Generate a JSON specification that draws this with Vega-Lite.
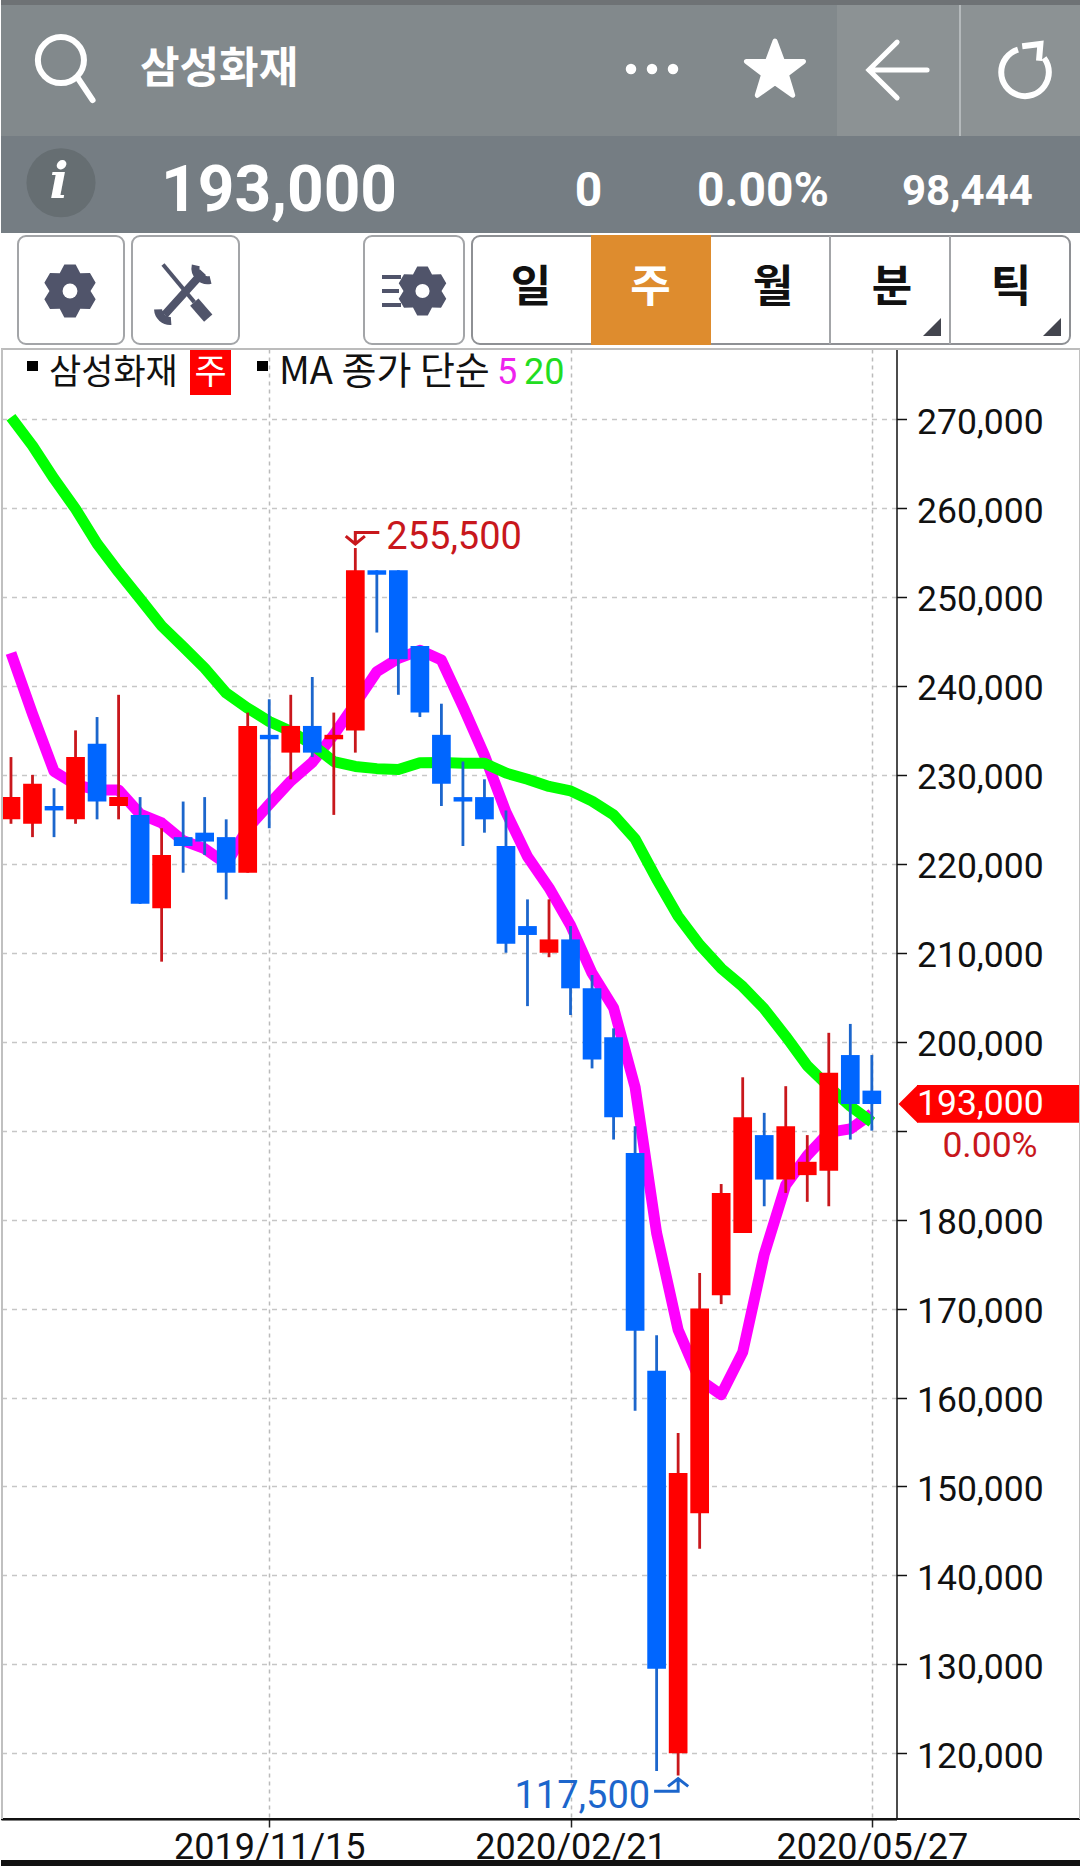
{"$schema":"https://vega.github.io/schema/vega-lite/v6.json","padding":0,"spacing":0,"bounds":"flush","background":"#ffffff","config":{"view":{"stroke":null}},"vconcat":[
{"width":1080,"height":349,"data":{"values":[{}]},"layer":[
{"mark":{"type":"rect","fill":"#82898c"},"encoding":{"x":{"datum":0,"scale":{"domain":[0,1080],"nice":false,"zero":false},"axis":null},"x2":{"datum":1080},"y":{"datum":0,"scale":{"domain":[349,0],"nice":false,"zero":false},"axis":null},"y2":{"datum":136}}},
{"mark":{"type":"rect","fill":"#6e7275"},"encoding":{"x":{"datum":0,"axis":null},"x2":{"datum":1080},"y":{"datum":0,"axis":null},"y2":{"datum":5}}},
{"mark":{"type":"rect","fill":"#8c9294"},"encoding":{"x":{"datum":836,"axis":null},"x2":{"datum":1080},"y":{"datum":5,"axis":null},"y2":{"datum":136}}},
{"mark":{"type":"rect","fill":"#b4b9bb"},"encoding":{"x":{"datum":958,"axis":null},"x2":{"datum":960},"y":{"datum":5,"axis":null},"y2":{"datum":136}}},
{"mark":{"type":"rect","fill":"#757d83"},"encoding":{"x":{"datum":0,"axis":null},"x2":{"datum":1080},"y":{"datum":136,"axis":null},"y2":{"datum":233}}},
{"mark":{"type":"point","shape":"M-.91,-.31 A.72,.72 0 1 1 .53,-.31 A.72,.72 0 1 1 -.91,-.31 M.32,.22 L.8,.94","size":4096,"filled":false,"stroke":"#ffffff","strokeWidth":6,"strokeCap":"round","opacity":1},"encoding":{"x":{"datum":66,"axis":null},"y":{"datum":70,"axis":null}}},
{"mark":{"type":"text","font":"Noto Sans CJK KR","fontWeight":"bold","fontSize":43,"color":"#ffffff","align":"left","baseline":"middle"},"encoding":{"x":{"datum":139,"axis":null},"y":{"datum":70,"axis":null},"text":{"value":"삼성화재"}}},
{"mark":{"type":"text","font":"Roboto","fontWeight":"bold","fontSize":64,"color":"#ffffff","align":"left","baseline":"middle"},"encoding":{"x":{"datum":160,"axis":null},"y":{"datum":192,"axis":null},"text":{"value":"193,000"}}},
{"mark":{"type":"text","font":"Roboto","fontWeight":"bold","fontSize":48,"color":"#ffffff","align":"center","baseline":"middle"},"encoding":{"x":{"datum":587.5,"axis":null},"y":{"datum":192,"axis":null},"text":{"value":"0"}}},
{"mark":{"type":"text","font":"Roboto","fontWeight":"bold","fontSize":48,"color":"#ffffff","align":"left","baseline":"middle"},"encoding":{"x":{"datum":696,"axis":null},"y":{"datum":192,"axis":null},"text":{"value":"0.00%"}}},
{"mark":{"type":"text","font":"Roboto","fontWeight":"bold","fontSize":42,"color":"#ffffff","align":"left","baseline":"middle"},"encoding":{"x":{"datum":901,"axis":null},"y":{"datum":192,"axis":null},"text":{"value":"98,444"}}},
{"mark":{"type":"point","shape":"circle","size":4778,"filled":true,"fill":"#666e72","opacity":1},"encoding":{"x":{"datum":60,"axis":null},"y":{"datum":182.7,"axis":null}}},
{"mark":{"type":"text","font":"DejaVu Serif","fontWeight":"bold","fontStyle":"italic","fontSize":50,"color":"#ffffff","align":"center","baseline":"middle"},"encoding":{"x":{"datum":58,"axis":null},"y":{"datum":183,"axis":null},"text":{"value":"i"}}},
{"mark":{"type":"point","shape":"circle","size":110,"filled":true,"fill":"#ffffff","opacity":1},"encoding":{"x":{"datum":630,"axis":null},"y":{"datum":69,"axis":null}}},
{"mark":{"type":"point","shape":"circle","size":110,"filled":true,"fill":"#ffffff","opacity":1},"encoding":{"x":{"datum":651,"axis":null},"y":{"datum":69,"axis":null}}},
{"mark":{"type":"point","shape":"circle","size":110,"filled":true,"fill":"#ffffff","opacity":1},"encoding":{"x":{"datum":672,"axis":null},"y":{"datum":69,"axis":null}}},
{"mark":{"type":"point","shape":"M0,-1 L.25,-.32 L.95,-.32 L.38,.12 L.59,.81 L0,.39 L-.59,.81 L-.38,.12 L-.95,-.32 L-.25,-.32 Z","size":3600,"filled":true,"fill":"#ffffff","stroke":"#ffffff","strokeWidth":5,"strokeJoin":"round","opacity":1},"encoding":{"x":{"datum":774,"axis":null},"y":{"datum":71,"axis":null}}},
{"mark":{"type":"point","shape":"M.97,0 L-.97,0 M-.03,-.93 L-.97,0 L-.03,.93","size":3600,"filled":false,"stroke":"#ffffff","strokeWidth":5,"strokeCap":"round","opacity":1},"encoding":{"x":{"datum":897,"axis":null},"y":{"datum":70,"axis":null}}},
{"mark":{"type":"point","shape":"M-.25,-.8 A.85,.85 0 1 0 .68,-.5 M-.1,-.92 L.55,-1 L.5,-.4","size":3136,"filled":false,"stroke":"#ffffff","strokeWidth":6,"opacity":1},"encoding":{"x":{"datum":1024,"axis":null},"y":{"datum":72,"axis":null}}},
{"mark":{"type":"rect","fill":"#ffffff","stroke":"#a3a5a8","strokeWidth":2,"cornerRadius":8},"encoding":{"x":{"datum":17,"axis":null},"x2":{"datum":123},"y":{"datum":236,"axis":null},"y2":{"datum":344}}},
{"mark":{"type":"rect","fill":"#ffffff","stroke":"#a3a5a8","strokeWidth":2,"cornerRadius":8},"encoding":{"x":{"datum":131,"axis":null},"x2":{"datum":238},"y":{"datum":236,"axis":null},"y2":{"datum":344}}},
{"mark":{"type":"rect","fill":"#ffffff","stroke":"#a3a5a8","strokeWidth":2,"cornerRadius":8},"encoding":{"x":{"datum":363,"axis":null},"x2":{"datum":463},"y":{"datum":236,"axis":null},"y2":{"datum":344}}},
{"mark":{"type":"rect","fill":"#ffffff","stroke":"#8e9094","strokeWidth":2,"cornerRadius":8},"encoding":{"x":{"datum":471,"axis":null},"x2":{"datum":1069},"y":{"datum":236,"axis":null},"y2":{"datum":344}}},
{"mark":{"type":"rect","fill":"#de8c2e"},"encoding":{"x":{"datum":590,"axis":null},"x2":{"datum":710},"y":{"datum":235,"axis":null},"y2":{"datum":345}}},
{"mark":{"type":"rule","stroke":"#a3a5a8","strokeWidth":2},"encoding":{"x":{"datum":829,"axis":null},"y":{"datum":236,"axis":null},"y2":{"datum":344}}},
{"mark":{"type":"rule","stroke":"#a3a5a8","strokeWidth":2},"encoding":{"x":{"datum":949,"axis":null},"y":{"datum":236,"axis":null},"y2":{"datum":344}}},
{"mark":{"type":"point","shape":"M-.21,-.98 L.21,-.98 L.38,-.66 L.74,-.67 L.95,-.31 L.76,0 L.95,.31 L.74,.67 L.38,.66 L.21,.98 L-.21,.98 L-.38,.66 L-.74,.67 L-.95,.31 L-.76,0 L-.95,-.31 L-.74,-.67 L-.38,-.66 Z","size":2916,"filled":true,"fill":"#50546a","opacity":1},"encoding":{"x":{"datum":69,"axis":null},"y":{"datum":291,"axis":null}}},
{"mark":{"type":"point","shape":"circle","size":220,"filled":true,"fill":"#ffffff","opacity":1},"encoding":{"x":{"datum":69,"axis":null},"y":{"datum":291,"axis":null}}},
{"mark":{"type":"point","shape":"M-.21,-.98 L.21,-.98 L.38,-.66 L.74,-.67 L.95,-.31 L.76,0 L.95,.31 L.74,.67 L.38,.66 L.21,.98 L-.21,.98 L-.38,.66 L-.74,.67 L-.95,.31 L-.76,0 L-.95,-.31 L-.74,-.67 L-.38,-.66 Z","size":2500,"filled":true,"fill":"#50546a","opacity":1},"encoding":{"x":{"datum":421.5,"axis":null},"y":{"datum":291,"axis":null}}},
{"mark":{"type":"point","shape":"circle","size":200,"filled":true,"fill":"#ffffff","opacity":1},"encoding":{"x":{"datum":421.5,"axis":null},"y":{"datum":291,"axis":null}}},
{"mark":{"type":"rect","fill":"#50546a"},"encoding":{"x":{"datum":381,"axis":null},"x2":{"datum":400},"y":{"datum":275,"axis":null},"y2":{"datum":279}}},
{"mark":{"type":"rect","fill":"#50546a"},"encoding":{"x":{"datum":381,"axis":null},"x2":{"datum":398},"y":{"datum":289,"axis":null},"y2":{"datum":293}}},
{"mark":{"type":"rect","fill":"#50546a"},"encoding":{"x":{"datum":381,"axis":null},"x2":{"datum":400},"y":{"datum":303,"axis":null},"y2":{"datum":307}}},
{"mark":{"type":"point","shape":"M-.78,-.95 L.3,.35","size":3364,"filled":false,"stroke":"#50546a","strokeWidth":4,"opacity":1},"encoding":{"x":{"datum":184.6,"axis":null},"y":{"datum":292,"axis":null}}},
{"mark":{"type":"point","shape":"M.3,.35 L.78,.9","size":3364,"filled":false,"stroke":"#50546a","strokeWidth":11,"opacity":1},"encoding":{"x":{"datum":184.6,"axis":null},"y":{"datum":292,"axis":null}}},
{"mark":{"type":"point","shape":"M-.72,.78 L.6,-.68 M.35,-.92 A.42,.42 0 0 0 .86,-.42 M-.95,.6 A.42,.42 0 0 0 -.5,1","size":3364,"filled":false,"stroke":"#50546a","strokeWidth":8,"opacity":1},"encoding":{"x":{"datum":184.6,"axis":null},"y":{"datum":292,"axis":null}}},
{"mark":{"type":"text","font":"Noto Sans CJK KR","fontWeight":"bold","fontSize":44,"color":"#111111","align":"center","baseline":"middle"},"encoding":{"x":{"datum":530,"axis":null},"y":{"datum":289,"axis":null},"text":{"value":"일"}}},
{"mark":{"type":"text","font":"Noto Sans CJK KR","fontWeight":"bold","fontSize":44,"color":"#ffffff","align":"center","baseline":"middle"},"encoding":{"x":{"datum":649.5,"axis":null},"y":{"datum":289,"axis":null},"text":{"value":"주"}}},
{"mark":{"type":"text","font":"Noto Sans CJK KR","fontWeight":"bold","fontSize":44,"color":"#111111","align":"center","baseline":"middle"},"encoding":{"x":{"datum":772,"axis":null},"y":{"datum":289,"axis":null},"text":{"value":"월"}}},
{"mark":{"type":"text","font":"Noto Sans CJK KR","fontWeight":"bold","fontSize":44,"color":"#111111","align":"center","baseline":"middle"},"encoding":{"x":{"datum":891,"axis":null},"y":{"datum":289,"axis":null},"text":{"value":"분"}}},
{"mark":{"type":"text","font":"Noto Sans CJK KR","fontWeight":"bold","fontSize":44,"color":"#111111","align":"center","baseline":"middle"},"encoding":{"x":{"datum":1010,"axis":null},"y":{"datum":289,"axis":null},"text":{"value":"틱"}}},
{"mark":{"type":"point","shape":"M1,-1 L1,1 L-1,1 Z","size":324,"filled":true,"fill":"#43454e","opacity":1},"encoding":{"x":{"datum":931,"axis":null},"y":{"datum":327,"axis":null}}},
{"mark":{"type":"point","shape":"M1,-1 L1,1 L-1,1 Z","size":324,"filled":true,"fill":"#43454e","opacity":1},"encoding":{"x":{"datum":1051,"axis":null},"y":{"datum":327,"axis":null}}},
{"mark":{"type":"rect","fill":"#000000"},"encoding":{"x":{"datum":26,"axis":null},"x2":{"datum":37},"y":{"datum":361,"axis":null},"y2":{"datum":371}}},
{"mark":{"type":"text","font":"Noto Sans CJK KR","fontSize":35,"color":"#111111","align":"left","baseline":"middle"},"encoding":{"x":{"datum":48,"axis":null},"y":{"datum":373,"axis":null},"text":{"value":"삼성화재"}}},
{"mark":{"type":"rect","fill":"#ff0000"},"encoding":{"x":{"datum":189,"axis":null},"x2":{"datum":230},"y":{"datum":349,"axis":null},"y2":{"datum":395}}},
{"mark":{"type":"text","font":"Noto Sans CJK KR","fontSize":35,"color":"#ffffff","align":"center","baseline":"middle"},"encoding":{"x":{"datum":209.5,"axis":null},"y":{"datum":373,"axis":null},"text":{"value":"주"}}},
{"mark":{"type":"rect","fill":"#000000"},"encoding":{"x":{"datum":256,"axis":null},"x2":{"datum":267},"y":{"datum":361,"axis":null},"y2":{"datum":371}}},
{"mark":{"type":"text","font":"Noto Sans CJK KR","fontSize":38,"color":"#111111","align":"left","baseline":"middle"},"encoding":{"x":{"datum":278,"axis":null},"y":{"datum":373,"axis":null},"text":{"value":"MA 종가 단순"}}},
{"mark":{"type":"text","font":"Roboto","fontSize":36,"color":"#ee22ee","align":"left","baseline":"middle"},"encoding":{"x":{"datum":496,"axis":null},"y":{"datum":373,"axis":null},"text":{"value":"5"}}},
{"mark":{"type":"text","font":"Roboto","fontSize":36,"color":"#22dd22","align":"left","baseline":"middle"},"encoding":{"x":{"datum":523,"axis":null},"y":{"datum":373,"axis":null},"text":{"value":"20"}}}
]},
{"width":895.5,"height":1470,"resolve":{"scale":{"x":"independent"},"axis":{"y":"independent"}},"data":{"values":[
{"date":"2019/08/23","open":225000,"high":232000,"low":224500,"close":227500,"dir":"up","ma5":243700,"ma20":270200},
{"date":"2019/08/30","open":224500,"high":230000,"low":223000,"close":229000,"dir":"up","ma5":236850,"ma20":267000},
{"date":"2019/09/06","open":226500,"high":228500,"low":223000,"close":226000,"dir":"down","ma5":230400,"ma20":263300},
{"date":"2019/09/13","open":225000,"high":235000,"low":224500,"close":232000,"dir":"up","ma5":228900,"ma20":259900},
{"date":"2019/09/20","open":233500,"high":236500,"low":225000,"close":227000,"dir":"down","ma5":228300,"ma20":256000},
{"date":"2019/09/27","open":226500,"high":239000,"low":225000,"close":227500,"dir":"up","ma5":228300,"ma20":252800},
{"date":"2019/10/04","open":225500,"high":227500,"low":215500,"close":215500,"dir":"down","ma5":225600,"ma20":249800},
{"date":"2019/10/11","open":215000,"high":224000,"low":209000,"close":221000,"dir":"up","ma5":224600,"ma20":246750},
{"date":"2019/10/18","open":223000,"high":227000,"low":219000,"close":222000,"dir":"down","ma5":222600,"ma20":244400},
{"date":"2019/10/25","open":223500,"high":227500,"low":221000,"close":222500,"dir":"down","ma5":221700,"ma20":242000},
{"date":"2019/11/01","open":223000,"high":225000,"low":216000,"close":219000,"dir":"down","ma5":220000,"ma20":239200},
{"date":"2019/11/08","open":219000,"high":237000,"low":219000,"close":235500,"dir":"up","ma5":224000,"ma20":237500},
{"date":"2019/11/15","open":234500,"high":238500,"low":224000,"close":234000,"dir":"down","ma5":226700,"ma20":236000},
{"date":"2019/11/22","open":232500,"high":239000,"low":229500,"close":235500,"dir":"up","ma5":229300,"ma20":234900},
{"date":"2019/11/29","open":235500,"high":241000,"low":232000,"close":232500,"dir":"down","ma5":231400,"ma20":233400},
{"date":"2019/12/06","open":234000,"high":237000,"low":225500,"close":234500,"dir":"up","ma5":234500,"ma20":231500},
{"date":"2019/12/13","open":235000,"high":255500,"low":232500,"close":253000,"dir":"up","ma5":238000,"ma20":230950},
{"date":"2019/12/20","open":253000,"high":253000,"low":246000,"close":252500,"dir":"down","ma5":241600,"ma20":230700},
{"date":"2019/12/27","open":253000,"high":253000,"low":239000,"close":243000,"dir":"down","ma5":243100,"ma20":230600},
{"date":"2020/01/03","open":244500,"high":244500,"low":236500,"close":237000,"dir":"down","ma5":244000,"ma20":231350},
{"date":"2020/01/10","open":234500,"high":238000,"low":226500,"close":229000,"dir":"down","ma5":242900,"ma20":231400},
{"date":"2020/01/17","open":227500,"high":231500,"low":222000,"close":227000,"dir":"down","ma5":237700,"ma20":231300},
{"date":"2020/01/24","open":227500,"high":229500,"low":223500,"close":225000,"dir":"down","ma5":232200,"ma20":231300},
{"date":"2020/01/31","open":222000,"high":226000,"low":210000,"close":211000,"dir":"down","ma5":225800,"ma20":230200},
{"date":"2020/02/07","open":213000,"high":216000,"low":204000,"close":212000,"dir":"down","ma5":220800,"ma20":229500},
{"date":"2020/02/14","open":210000,"high":216000,"low":209500,"close":211500,"dir":"up","ma5":217300,"ma20":228700},
{"date":"2020/02/21","open":211500,"high":213000,"low":203000,"close":206000,"dir":"down","ma5":213100,"ma20":228200},
{"date":"2020/02/28","open":206000,"high":207500,"low":197000,"close":198000,"dir":"down","ma5":207700,"ma20":227050},
{"date":"2020/03/06","open":200500,"high":201500,"low":189000,"close":191500,"dir":"down","ma5":203800,"ma20":225500},
{"date":"2020/03/13","open":187500,"high":190500,"low":158500,"close":167500,"dir":"down","ma5":194900,"ma20":222800},
{"date":"2020/03/20","open":163000,"high":167000,"low":118000,"close":129500,"dir":"down","ma5":178500,"ma20":218300},
{"date":"2020/03/27","open":120000,"high":156000,"low":117500,"close":151500,"dir":"up","ma5":167600,"ma20":214100},
{"date":"2020/04/03","open":147000,"high":174000,"low":143000,"close":170000,"dir":"up","ma5":162000,"ma20":210900},
{"date":"2020/04/10","open":171500,"high":184000,"low":170500,"close":183000,"dir":"up","ma5":160300,"ma20":208250},
{"date":"2020/04/17","open":178500,"high":196000,"low":178500,"close":191500,"dir":"up","ma5":165100,"ma20":206200},
{"date":"2020/04/24","open":189500,"high":192000,"low":181500,"close":184500,"dir":"down","ma5":176100,"ma20":203700},
{"date":"2020/05/01","open":184500,"high":195000,"low":183000,"close":190500,"dir":"up","ma5":183900,"ma20":200600},
{"date":"2020/05/08","open":185000,"high":189500,"low":182000,"close":186500,"dir":"up","ma5":187200,"ma20":197300},
{"date":"2020/05/15","open":185500,"high":201000,"low":181500,"close":196500,"dir":"up","ma5":189800,"ma20":194950},
{"date":"2020/05/22","open":198500,"high":202000,"low":189000,"close":193000,"dir":"down","ma5":190200,"ma20":192750},
{"date":"2020/05/27","open":194500,"high":198500,"low":190000,"close":193000,"dir":"down","ma5":191900,"ma20":190950}
]},"layer":[
{"mark":{"type":"line","color":"#ff00ff","strokeWidth":11,"strokeJoin":"round"},"encoding":{
"x":{"field":"date","type":"ordinal","sort":null,"scale":{"type":"point","padding":0.805,"align":0.288,"round":false},"axis":{"values":["2019/11/15","2020/02/21","2020/05/27"],"title":null,"labelAngle":0,"labelFont":"Roboto","labelFontSize":36,"labelColor":"#111111","labelBaseline":"alphabetic","labelOverlap":false,"labelFlush":false,"labelLimit":400,"labelPadding":31,"tickSize":8,"tickColor":"#222222","tickWidth":1.5,"domainColor":"#000000","domainWidth":2,"grid":true,"gridColor":"#bbbbbb","gridDash":[4,4],"gridWidth":1.5}},
"y":{"field":"ma5","type":"quantitative","scale":{"domain":[112614,277877],"nice":false,"zero":false},"axis":{"orient":"right","values":[120000,130000,140000,150000,160000,170000,180000,190000,200000,210000,220000,230000,240000,250000,260000,270000],"labelExpr":"datum.value == 190000 ? '' : format(datum.value, ',d')","title":null,"labelFont":"Roboto","labelFontSize":35.5,"labelColor":"#111111","labelPadding":10,"labelOffset":3,"labelOverlap":false,"labelLimit":300,"tickSize":10,"tickColor":"#111111","tickWidth":1.5,"domainColor":"#111111","domainWidth":1.5,"grid":true,"gridColor":"#c6c6c6","gridDash":[5,5],"gridWidth":1.5}}}},
{"layer":[
{"mark":{"type":"line","color":"#00ff00","strokeWidth":11,"strokeJoin":"round"},"encoding":{"x":{"field":"date","type":"ordinal","sort":null,"scale":{"type":"point","padding":0.805,"align":0.288,"round":false},"axis":null},"y":{"field":"ma20","type":"quantitative","axis":null}}},
{"mark":{"type":"rule","strokeWidth":2.8},"encoding":{"x":{"field":"date","type":"ordinal","sort":null,"axis":null},"y":{"field":"low","type":"quantitative","axis":null},"y2":{"field":"high"},"stroke":{"field":"dir","type":"nominal","legend":null,"scale":{"domain":["up","down"],"range":["#c8171c","#1c66cc"]}}}},
{"mark":{"type":"bar","size":18.7},"encoding":{"x":{"field":"date","type":"ordinal","sort":null,"axis":null},"y":{"field":"open","type":"quantitative","axis":null},"y2":{"field":"close"},"fill":{"field":"dir","type":"nominal","legend":null,"scale":{"domain":["up","down"],"range":["#ff0000","#0066ff"]}}}},
{"data":{"values":[{"date":"2019/12/13","price":255500,"label":"255,500"}]},"layer":[
{"mark":{"type":"point","shape":"M1,-.65 L0,-.65 L0,-.17 M-.4,-.5 L0,-.17 L.4,-.5","size":2304,"filled":false,"stroke":"#c8171c","strokeWidth":3,"opacity":1},"encoding":{"x":{"field":"date","type":"ordinal","sort":null,"axis":null},"y":{"field":"price","type":"quantitative","axis":null}}},
{"mark":{"type":"text","font":"Roboto","fontSize":38,"color":"#c8171c","align":"left","baseline":"middle","dx":31,"dy":-10},"encoding":{"x":{"field":"date","type":"ordinal","sort":null,"axis":null},"y":{"field":"price","type":"quantitative","axis":null},"text":{"field":"label"}}}
]},
{"data":{"values":[{"date":"2020/03/27","price":117500,"label":"117,500"}]},"layer":[
{"mark":{"type":"point","shape":"M-1,.65 L0,.65 L0,.13 M-.42,.45 L0,.13 L.42,.45","size":2304,"filled":false,"stroke":"#1c66cc","strokeWidth":3,"opacity":1},"encoding":{"x":{"field":"date","type":"ordinal","sort":null,"axis":null},"y":{"field":"price","type":"quantitative","axis":null}}},
{"mark":{"type":"text","font":"Roboto","fontSize":38,"color":"#1c66cc","align":"right","baseline":"middle","dx":-28,"dy":21},"encoding":{"x":{"field":"date","type":"ordinal","sort":null,"axis":null},"y":{"field":"price","type":"quantitative","axis":null},"text":{"field":"label"}}}
]}
]},
{"data":{"values":[{}]},"layer":[
{"mark":{"type":"rule","stroke":"#bcbcbc","strokeWidth":2},"encoding":{"x":{"datum":0,"scale":{"domain":[0,1080],"range":[0,1080],"nice":false,"zero":false},"axis":null},"x2":{"datum":1080},"y":{"datum":277877,"axis":null}}},
{"mark":{"type":"rule","stroke":"#111111","strokeWidth":2},"encoding":{"x":{"datum":0,"axis":null},"x2":{"datum":1080},"y":{"datum":112614,"axis":null}}},
{"mark":{"type":"rule","stroke":"#c0c0c0","strokeWidth":2},"encoding":{"x":{"datum":1,"axis":null},"y":{"datum":277877,"axis":null},"y2":{"datum":112614}}},
{"mark":{"type":"rule","stroke":"#c0c0c0","strokeWidth":2},"encoding":{"x":{"datum":1079,"axis":null},"y":{"datum":277877,"axis":null},"y2":{"datum":112614}}},
{"mark":{"type":"rect","fill":"#ff0000"},"encoding":{"x":{"datum":916,"axis":null},"x2":{"datum":1078},"y":{"datum":195120,"axis":null},"y2":{"datum":190880}}},
{"mark":{"type":"point","shape":"M.5,-1 L.5,1 L-.5,0 Z","size":1421,"filled":true,"fill":"#ff0000","opacity":1},"encoding":{"x":{"datum":907,"axis":null},"y":{"datum":193000,"axis":null}}},
{"mark":{"type":"text","font":"Roboto","fontSize":35.5,"color":"#ffffff","align":"left","baseline":"middle"},"encoding":{"x":{"datum":916,"axis":null},"y":{"datum":193000,"axis":null},"text":{"value":"193,000"}}},
{"mark":{"type":"text","font":"Roboto","fontSize":35.5,"color":"#c8171c","align":"center","baseline":"middle"},"encoding":{"x":{"datum":989,"axis":null},"y":{"datum":188290,"axis":null},"text":{"value":"0.00%"}}},
{"mark":{"type":"rect","fill":"#111111"},"encoding":{"x":{"datum":0,"axis":null},"x2":{"datum":1080},"y":{"datum":108005,"axis":null},"y2":{"datum":107330}}}
]}
]}
]}
